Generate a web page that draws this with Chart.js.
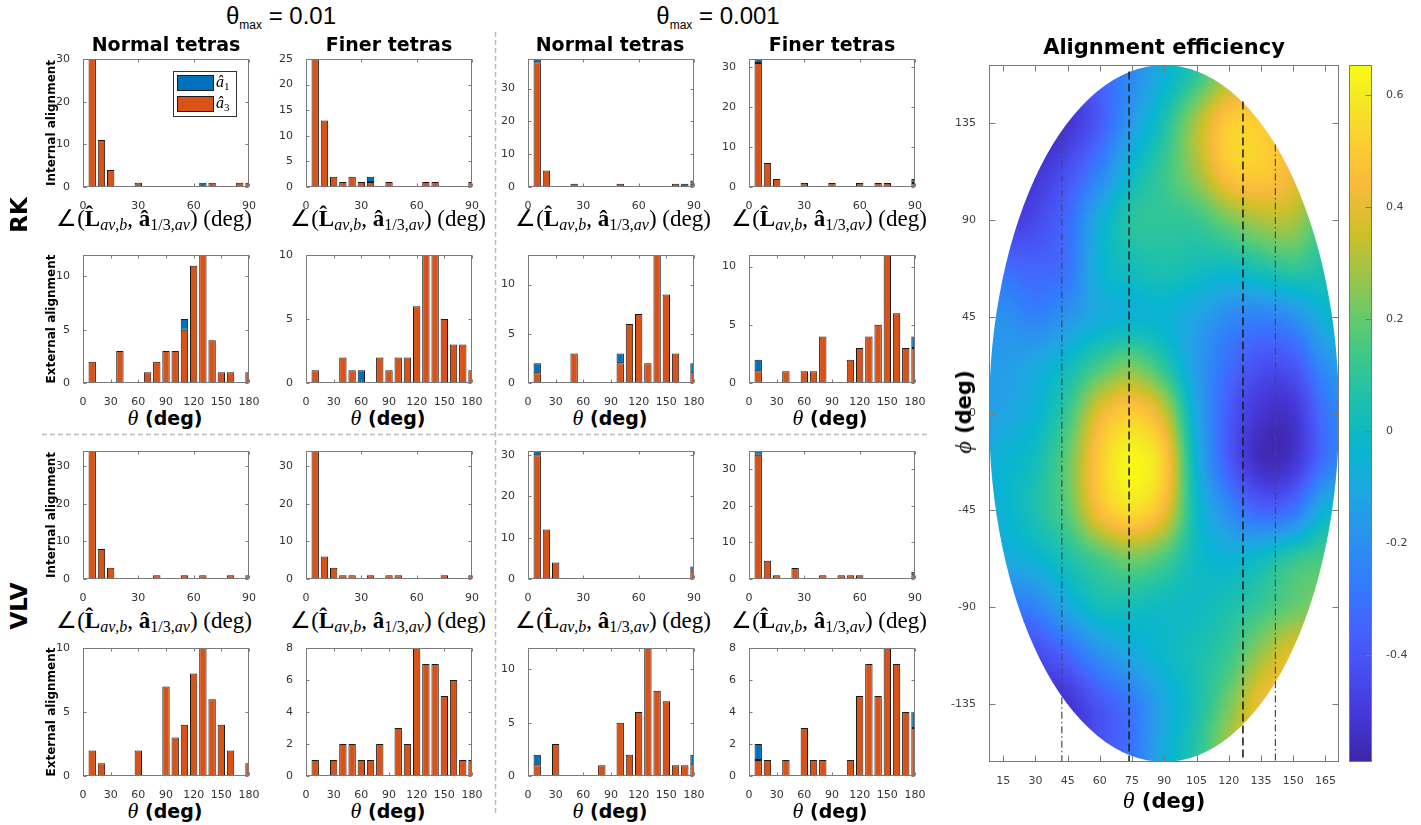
<!DOCTYPE html>
<html>
<head>
<meta charset="utf-8">
<title>Alignment histograms and alignment efficiency</title>
<script src="https://cdn.jsdelivr.net/npm/chart.js@4/dist/chart.umd.min.js"></script>
<style>
  html, body { margin: 0; padding: 0; background: #fff; }
  #fig { position: relative; width: 1421px; height: 825px; overflow: hidden;
         font-family: "DejaVu Sans", sans-serif; color: #000; }
  #fig canvas { position: absolute; }
  #seps { position: absolute; left: 0; top: 0; }
  .t { position: absolute; transform: translate(-50%, -50%); white-space: nowrap; line-height: 1; }
  .rot { transform: translate(-50%, -50%) rotate(-90deg); }
  .hdr { font-family: "Liberation Sans", Arial, sans-serif; font-size: 24px; }
  .hdr sub { font-size: 12px; vertical-align: -0.4em; line-height: 0; }
  .ptitle { font-weight: bold; font-size: 19px; }
  .ytitle { font-weight: bold; font-size: 12px; }
  .row { font-weight: bold; font-size: 23px; }
  .mlab { font-family: "Liberation Serif", serif; font-size: 23px; }
  .mlab sub { font-size: 16px; vertical-align: -0.3em; line-height: 0; }
  .tlab { font-weight: bold; font-size: 19px; }
  .tlab i { font-family: "Liberation Serif", serif; font-weight: normal; font-size: 22px; }
  .big { font-weight: bold; font-size: 21px; }
  .big i { font-family: "Liberation Serif", serif; font-weight: normal; font-size: 24px; }
  .htitle { font-weight: bold; font-size: 21px; }
</style>
</head>
<body>
<div id="fig">
  <svg id="seps" width="1421" height="825">
    <line x1="495.5" y1="32" x2="495.5" y2="815" stroke="#bdbdbd" stroke-width="1.5" stroke-dasharray="5 3"/>
    <line x1="42" y1="434.5" x2="930" y2="434.5" stroke="#bdbdbd" stroke-width="1.5" stroke-dasharray="5 3"/>
  </svg>
</div>
<script>
// ---- histogram bins and ticks ----
const INT_BINS = [5, 10, 15, 20, 25, 30, 35, 40, 45, 50, 55, 60, 65, 70, 75, 80, 85, 90];
const EXT_BINS = [10, 20, 30, 40, 50, 60, 70, 80, 90, 100, 110, 120, 130, 140, 150, 160, 170, 180];
const INT_XTICKS = [0, 30, 60, 90];
const EXT_XTICKS = [0, 30, 60, 90, 120, 150, 180];
const TICKS_BY_10 = [0, 10, 20, 30];
const TICKS_BY_5 = [0, 5, 10, 15, 20, 25];
const TICKS_SMALL_5 = [0, 5, 10];
const TICKS_BY_2 = [0, 2, 4, 6, 8];

// ---- counts: â3 (bottom, orange) and â1 (top, blue) ----
const NO_A1 = [0, 0, 0, 0, 0, 0, 0, 0, 0, 0, 0, 0, 0, 0, 0, 0, 0, 0];

// RK, θmax = 0.01
const RK1_NORMAL_INT_A3 = [30, 11, 4, 0, 0, 1, 0, 0, 0, 0, 0, 0, 0, 1, 0, 0, 1, 1];
const RK1_NORMAL_INT_A1 = [0, 0, 0, 0, 0, 0, 0, 0, 0, 0, 0, 0, 1, 0, 0, 0, 0, 0];
const RK1_FINER_INT_A3 = [25, 13, 2, 1, 2, 1, 1, 0, 1, 0, 0, 0, 1, 1, 0, 0, 0, 1];
const RK1_FINER_INT_A1 = [0, 0, 0, 0, 0, 0, 1, 0, 0, 0, 0, 0, 0, 0, 0, 0, 0, 0];
const RK1_NORMAL_EXT_A3 = [2, 0, 0, 3, 0, 0, 1, 2, 3, 3, 5, 11, 12, 4, 1, 1, 0, 1];
const RK1_NORMAL_EXT_A1 = [0, 0, 0, 0, 0, 0, 0, 0, 0, 0, 1, 0, 0, 0, 0, 0, 0, 0];
const RK1_FINER_EXT_A3 = [1, 0, 0, 2, 1, 0, 0, 2, 1, 2, 2, 6, 10, 10, 5, 3, 3, 1];
const RK1_FINER_EXT_A1 = [0, 0, 0, 0, 0, 1, 0, 0, 0, 0, 0, 0, 0, 0, 0, 0, 0, 0];

// RK, θmax = 0.001
const RK2_NORMAL_INT_A3 = [38, 5, 0, 0, 1, 0, 0, 0, 0, 1, 0, 0, 0, 0, 0, 1, 0, 1];
const RK2_NORMAL_INT_A1 = [1, 0, 0, 0, 0, 0, 0, 0, 0, 0, 0, 0, 0, 0, 0, 0, 1, 1];
const RK2_FINER_INT_A3 = [31, 6, 2, 0, 0, 1, 0, 0, 1, 0, 0, 1, 0, 1, 1, 0, 0, 1];
const RK2_FINER_INT_A1 = [1, 0, 0, 0, 0, 0, 0, 0, 0, 0, 0, 0, 0, 0, 0, 0, 0, 1];
const RK2_NORMAL_EXT_A3 = [1, 0, 0, 0, 3, 0, 0, 0, 0, 2, 6, 7, 2, 13, 9, 3, 0, 1];
const RK2_NORMAL_EXT_A1 = [1, 0, 0, 0, 0, 0, 0, 0, 0, 1, 0, 0, 0, 0, 0, 0, 0, 1];
const RK2_FINER_EXT_A3 = [1, 0, 0, 1, 0, 1, 1, 4, 0, 0, 2, 3, 4, 5, 11, 6, 3, 3];
const RK2_FINER_EXT_A1 = [1, 0, 0, 0, 0, 0, 0, 0, 0, 0, 0, 0, 0, 0, 0, 0, 0, 1];

// VLV, θmax = 0.01
const VLV1_NORMAL_INT_A3 = [34, 8, 3, 0, 0, 0, 0, 1, 0, 0, 1, 0, 1, 0, 0, 1, 0, 1];
const VLV1_FINER_INT_A3 = [34, 6, 3, 1, 1, 0, 1, 0, 1, 1, 0, 0, 0, 0, 1, 0, 0, 1];
const VLV1_NORMAL_EXT_A3 = [2, 1, 0, 0, 0, 2, 0, 0, 7, 3, 4, 8, 10, 6, 4, 2, 0, 1];
const VLV1_FINER_EXT_A3 = [1, 0, 1, 2, 2, 1, 1, 2, 0, 3, 2, 8, 7, 7, 5, 6, 1, 1];

// VLV, θmax = 0.001
const VLV2_NORMAL_INT_A3 = [30, 12, 4, 0, 0, 0, 0, 0, 0, 0, 0, 0, 0, 0, 0, 0, 0, 2];
const VLV2_NORMAL_INT_A1 = [1, 0, 0, 0, 0, 0, 0, 0, 0, 0, 0, 0, 0, 0, 0, 0, 0, 1];
const VLV2_FINER_INT_A3 = [34, 5, 1, 0, 3, 0, 0, 1, 0, 1, 1, 1, 0, 0, 0, 0, 0, 1];
const VLV2_FINER_INT_A1 = [1, 0, 0, 0, 0, 0, 0, 0, 0, 0, 0, 0, 0, 0, 0, 0, 0, 1];
const VLV2_NORMAL_EXT_A3 = [1, 0, 3, 0, 0, 0, 0, 1, 0, 5, 2, 6, 12, 8, 7, 1, 1, 1];
const VLV2_NORMAL_EXT_A1 = [1, 0, 0, 0, 0, 0, 0, 0, 0, 0, 0, 0, 0, 0, 0, 0, 0, 1];
const VLV2_FINER_EXT_A3 = [1, 1, 0, 1, 0, 3, 1, 1, 0, 0, 1, 5, 7, 5, 8, 7, 4, 3];
const VLV2_FINER_EXT_A1 = [1, 0, 0, 0, 0, 0, 0, 0, 0, 0, 0, 0, 0, 0, 0, 0, 0, 1];

// ---- alignment efficiency map ----
const THETA_RANGE = [8.4, 171.3];
const PHI_RANGE = [-162, 162];
const MAP_XTICKS = [15, 30, 45, 60, 75, 90, 105, 120, 135, 150, 165];
const MAP_YTICKS = [-135, -90, -45, 0, 45, 90, 135];
const CBAR_TICKS = [-0.4, -0.2, 0, 0.2, 0.4, 0.6];
const CLIM = [-0.59, 0.653];

// field samples: columns at FIELD_THETA, rows at FIELD_PHI (top to bottom)
const FIELD_THETA = [0, 15, 30, 45, 60, 75, 90, 105, 120, 135, 150, 165, 180];
const FIELD_PHI = [180, 157.5, 135, 112.5, 90, 67.5, 45, 22.5, 0, -22.5, -45, -67.5, -90, -112.5, -135, -157.5, -180];
const FIELD = [
  [-0.55, -0.55, -0.55, -0.50, -0.40, -0.22, -0.05, 0.08, 0.25, 0.28, 0.25, 0.15, 0.05],
  [-0.55, -0.55, -0.55, -0.50, -0.36, -0.22, -0.06, 0.10, 0.30, 0.35, 0.30, 0.20, 0.10],
  [-0.60, -0.60, -0.58, -0.52, -0.38, -0.15, 0.05, 0.30, 0.50, 0.50, 0.40, 0.25, 0.15],
  [-0.60, -0.58, -0.52, -0.42, -0.25, -0.02, 0.12, 0.28, 0.48, 0.50, 0.42, 0.30, 0.20],
  [-0.50, -0.50, -0.45, -0.33, -0.08, 0.08, 0.10, 0.12, 0.22, 0.30, 0.30, 0.12, 0.00],
  [-0.35, -0.32, -0.35, -0.30, -0.05, 0.02, 0.05, 0.02, 0.00, 0.05, 0.10, 0.05, 0.00],
  [-0.20, -0.20, -0.25, -0.18, -0.08, -0.05, -0.05, -0.12, -0.22, -0.25, -0.20, -0.05, 0.00],
  [-0.15, -0.15, -0.10, 0.00, 0.14, 0.22, 0.08, -0.15, -0.32, -0.42, -0.40, -0.20, -0.10],
  [-0.15, -0.12, -0.05, 0.12, 0.40, 0.50, 0.35, -0.10, -0.38, -0.52, -0.52, -0.30, -0.15],
  [-0.10, -0.05, 0.02, 0.20, 0.50, 0.64, 0.50, -0.05, -0.38, -0.55, -0.52, -0.30, -0.15],
  [-0.10, -0.05, 0.05, 0.18, 0.45, 0.56, 0.42, 0.00, -0.22, -0.35, -0.30, -0.05, 0.00],
  [-0.15, -0.10, -0.05, 0.05, 0.15, 0.22, 0.15, 0.00, -0.05, 0.00, 0.10, 0.15, 0.15],
  [-0.35, -0.30, -0.25, -0.10, 0.02, 0.02, 0.00, 0.00, 0.05, 0.12, 0.20, 0.25, 0.25],
  [-0.55, -0.50, -0.45, -0.35, -0.20, -0.10, -0.02, 0.04, 0.12, 0.28, 0.40, 0.35, 0.30],
  [-0.60, -0.58, -0.55, -0.52, -0.40, -0.28, -0.10, 0.04, 0.22, 0.42, 0.45, 0.40, 0.35],
  [-0.60, -0.60, -0.58, -0.52, -0.42, -0.30, -0.08, 0.08, 0.30, 0.42, 0.42, 0.38, 0.35],
  [-0.60, -0.60, -0.58, -0.52, -0.45, -0.32, -0.08, 0.08, 0.30, 0.40, 0.40, 0.35, 0.35],
];

// vertical guides: theta position and the phi where each one starts
const GUIDE_THETA = [42.3, 73.6, 126.6, 141.7];
const GUIDE_PHI_TOP = [131, 159, 145, 125];
const GUIDE_DASH = [[7, 3, 1.5, 3], [8, 4], [8, 4], [7, 3, 1.5, 3]];

// ---- colours ----
const ORANGE = '#D95319';
const BLUE = '#0072BD';
const EDGE = '#1a1a1a';
const AXIS = '#7a7a7a';
const TICK_TEXT = '#333333';
// parula, every 4th entry of the 64-colour table
const PARULA = [[62, 38, 168], [69, 55, 213], [72, 77, 240], [69, 99, 253], [50, 124, 252],
  [43, 145, 239], [32, 165, 227], [8, 181, 208], [25, 191, 178], [55, 199, 144],
  [100, 203, 109], [157, 197, 73], [209, 192, 40], [248, 186, 61], [252, 207, 48],
  [245, 233, 36], [249, 251, 21]];
const PARULA_POS = PARULA.map((_, k) => (k < PARULA.length - 1 ? (k * 4) / 63 : 1));

// ---- panel layout ----
const COL_LEFT = [83, 306, 528, 749];
const ROW_TOP = [59, 255, 451, 648];
const BOX_W = 166, BOX_H = 128;
const PAD_L = 40, PAD_T = 10, PAD_R = 16, PAD_B = 22;

const PANELS = [
  { col: 0, row: 0, kind: 'int', a3: RK1_NORMAL_INT_A3, a1: RK1_NORMAL_INT_A1, yMax: 30, yTicks: TICKS_BY_10, legend: true },
  { col: 1, row: 0, kind: 'int', a3: RK1_FINER_INT_A3, a1: RK1_FINER_INT_A1, yMax: 25, yTicks: TICKS_BY_5 },
  { col: 2, row: 0, kind: 'int', a3: RK2_NORMAL_INT_A3, a1: RK2_NORMAL_INT_A1, yMax: 39, yTicks: TICKS_BY_10 },
  { col: 3, row: 0, kind: 'int', a3: RK2_FINER_INT_A3, a1: RK2_FINER_INT_A1, yMax: 32, yTicks: TICKS_BY_10 },
  { col: 0, row: 1, kind: 'ext', a3: RK1_NORMAL_EXT_A3, a1: RK1_NORMAL_EXT_A1, yMax: 12, yTicks: TICKS_SMALL_5 },
  { col: 1, row: 1, kind: 'ext', a3: RK1_FINER_EXT_A3, a1: RK1_FINER_EXT_A1, yMax: 10, yTicks: TICKS_SMALL_5 },
  { col: 2, row: 1, kind: 'ext', a3: RK2_NORMAL_EXT_A3, a1: RK2_NORMAL_EXT_A1, yMax: 13, yTicks: TICKS_SMALL_5 },
  { col: 3, row: 1, kind: 'ext', a3: RK2_FINER_EXT_A3, a1: RK2_FINER_EXT_A1, yMax: 11, yTicks: TICKS_SMALL_5 },
  { col: 0, row: 2, kind: 'int', a3: VLV1_NORMAL_INT_A3, a1: NO_A1, yMax: 34, yTicks: TICKS_BY_10 },
  { col: 1, row: 2, kind: 'int', a3: VLV1_FINER_INT_A3, a1: NO_A1, yMax: 34, yTicks: TICKS_BY_10 },
  { col: 2, row: 2, kind: 'int', a3: VLV2_NORMAL_INT_A3, a1: VLV2_NORMAL_INT_A1, yMax: 31, yTicks: TICKS_BY_10 },
  { col: 3, row: 2, kind: 'int', a3: VLV2_FINER_INT_A3, a1: VLV2_FINER_INT_A1, yMax: 35, yTicks: TICKS_BY_10 },
  { col: 0, row: 3, kind: 'ext', a3: VLV1_NORMAL_EXT_A3, a1: NO_A1, yMax: 10, yTicks: TICKS_SMALL_5 },
  { col: 1, row: 3, kind: 'ext', a3: VLV1_FINER_EXT_A3, a1: NO_A1, yMax: 8, yTicks: TICKS_BY_2 },
  { col: 2, row: 3, kind: 'ext', a3: VLV2_NORMAL_EXT_A3, a1: VLV2_NORMAL_EXT_A1, yMax: 12, yTicks: TICKS_SMALL_5 },
  { col: 3, row: 3, kind: 'ext', a3: VLV2_FINER_EXT_A3, a1: VLV2_FINER_EXT_A1, yMax: 8, yTicks: TICKS_BY_2 },
];

Chart.defaults.font.family = '"DejaVu Sans", sans-serif';
Chart.defaults.animation = false;

// box around the axes with short inward ticks, matlab style
const frameTicks = {
  id: 'frameTicks',
  afterDraw(chart, args, o) {
    if (!o.enabled) return;
    const { ctx, chartArea: a, scales } = chart;
    const l = Math.round(a.left) + 0.5, r = Math.round(a.right) - 0.5;
    const t = Math.round(a.top) + 0.5, b = Math.round(a.bottom) - 0.5;
    ctx.save();
    ctx.strokeStyle = o.color;
    ctx.lineWidth = 1;
    ctx.beginPath();
    if (o.xTicks) {
      for (const tk of scales.x.ticks) {
        const px = Math.round(scales.x.getPixelForValue(tk.value)) + 0.5;
        ctx.moveTo(px, b); ctx.lineTo(px, b - o.len);
        ctx.moveTo(px, t); ctx.lineTo(px, t + o.len);
      }
    }
    for (const tk of scales.y.ticks) {
      const py = Math.round(scales.y.getPixelForValue(tk.value)) + 0.5;
      if (o.leftTicks) { ctx.moveTo(l, py); ctx.lineTo(l + o.len, py); }
      ctx.moveTo(r, py); ctx.lineTo(r - o.len, py);
    }
    ctx.stroke();
    ctx.strokeRect(l, t, r - l, b - t);
    ctx.restore();
  }
};

// legend box drawn inside the plot area
const insetLegend = {
  id: 'insetLegend',
  afterDraw(chart, args, o) {
    if (!o.enabled) return;
    const { ctx, chartArea: a } = chart;
    const x0 = Math.round(a.left + o.x), y0 = Math.round(a.top + o.y);
    ctx.save();
    ctx.fillStyle = '#fff';
    ctx.fillRect(x0, y0, o.w, o.h);
    ctx.strokeStyle = '#333';
    ctx.lineWidth = 1;
    ctx.strokeRect(x0 + 0.5, y0 + 0.5, o.w - 1, o.h - 1);
    o.order.forEach((di, k) => {
      const ds = chart.data.datasets[di];
      const py = y0 + 4 + k * 21;
      ctx.fillStyle = ds.backgroundColor;
      ctx.fillRect(x0 + 4, py, 37, 16);
      ctx.strokeStyle = EDGE;
      ctx.strokeRect(x0 + 4.5, py + 0.5, 36, 15);
      ctx.fillStyle = '#000';
      ctx.textBaseline = 'alphabetic';
      ctx.font = 'italic 16px "Liberation Serif", serif';
      ctx.fillText(ds.label.charAt(0), x0 + 43, py + 12);
      const wBase = ctx.measureText(ds.label.charAt(0)).width;
      ctx.font = '11px "Liberation Serif", serif';
      ctx.fillText(ds.label.slice(1), x0 + 43 + wBase, py + 15);
    });
    ctx.restore();
  }
};

function parula(v) {
  let t = (v - CLIM[0]) / (CLIM[1] - CLIM[0]);
  t = Math.min(1, Math.max(0, t));
  let k = 0;
  while (k < PARULA_POS.length - 2 && t > PARULA_POS[k + 1]) k++;
  const f = (t - PARULA_POS[k]) / (PARULA_POS[k + 1] - PARULA_POS[k]);
  const c0 = PARULA[k], c1 = PARULA[k + 1];
  return [c0[0] + (c1[0] - c0[0]) * f, c0[1] + (c1[1] - c0[1]) * f, c0[2] + (c1[2] - c0[2]) * f];
}

function cubic(p0, p1, p2, p3, t) {
  return p1 + 0.5 * t * (p2 - p0 + t * (2 * p0 - 5 * p1 + 4 * p2 - p3 + t * (3 * (p1 - p2) + p3 - p0)));
}

// smooth reading of the field between its samples
function sampleField(th, ph) {
  const fx = (th - FIELD_THETA[0]) / (FIELD_THETA[1] - FIELD_THETA[0]);
  const fy = (FIELD_PHI[0] - ph) / (FIELD_PHI[0] - FIELD_PHI[1]);
  const i = Math.floor(fx), j = Math.floor(fy);
  const tx = fx - i, ty = fy - j;
  const nr = FIELD.length, nc = FIELD[0].length;
  const g = (r, c) => FIELD[Math.min(nr - 1, Math.max(0, r))][Math.min(nc - 1, Math.max(0, c))];
  const rows = [];
  for (let m = -1; m <= 2; m++) {
    rows.push(cubic(g(j + m, i - 1), g(j + m, i), g(j + m, i + 1), g(j + m, i + 2), tx));
  }
  return cubic(rows[0], rows[1], rows[2], rows[3], ty);
}

// colour field clipped to the ellipse
const fieldLayer = {
  id: 'fieldLayer',
  beforeDatasetsDraw(chart, args, o) {
    if (!o.enabled) return;
    const { ctx, chartArea: a, scales: { x, y } } = chart;
    const w = Math.round(a.width), h = Math.round(a.height);
    if (!chart.$fieldImg) {
      const off = document.createElement('canvas');
      off.width = w; off.height = h;
      const octx = off.getContext('2d');
      const img = octx.createImageData(w, h);
      for (let j = 0; j < h; j++) {
        const ph = y.getValueForPixel(a.top + j + 0.5);
        for (let i = 0; i < w; i++) {
          const th = x.getValueForPixel(a.left + i + 0.5);
          const c = parula(sampleField(th, ph));
          const k = (j * w + i) * 4;
          img.data[k] = c[0]; img.data[k + 1] = c[1]; img.data[k + 2] = c[2]; img.data[k + 3] = 255;
        }
      }
      octx.putImageData(img, 0, 0);
      chart.$fieldImg = off;
    }
    const cx = x.getPixelForValue((THETA_RANGE[0] + THETA_RANGE[1]) / 2);
    const cy = y.getPixelForValue((PHI_RANGE[0] + PHI_RANGE[1]) / 2);
    const rx = Math.abs(x.getPixelForValue(THETA_RANGE[1]) - cx);
    const ry = Math.abs(y.getPixelForValue(PHI_RANGE[1]) - cy);
    ctx.save();
    ctx.beginPath();
    ctx.ellipse(cx, cy, rx, ry, 0, 0, 2 * Math.PI);
    ctx.clip();
    ctx.drawImage(chart.$fieldImg, a.left, a.top);
    ctx.restore();
  }
};

// colour scale painted from the colorbar axis
const colorScale = {
  id: 'colorScale',
  beforeDatasetsDraw(chart, args, o) {
    if (!o.enabled) return;
    const { ctx, chartArea: a, scales: { y } } = chart;
    ctx.save();
    for (let py = Math.round(a.top); py < Math.round(a.bottom); py++) {
      const c = parula(y.getValueForPixel(py + 0.5));
      ctx.fillStyle = `rgb(${c[0] | 0},${c[1] | 0},${c[2] | 0})`;
      ctx.fillRect(a.left, py, a.width, 1);
    }
    ctx.restore();
  }
};

Chart.register(frameTicks, insetLegend, fieldLayer, colorScale);

const fig = document.getElementById('fig');

function addCanvas(left, top, w, h) {
  const c = document.createElement('canvas');
  c.width = w; c.height = h;
  c.style.left = left + 'px';
  c.style.top = top + 'px';
  c.style.width = w + 'px';
  c.style.height = h + 'px';
  fig.appendChild(c);
  return c;
}

function addText(cls, x, y, html) {
  const d = document.createElement('div');
  d.className = 't ' + cls;
  d.style.left = x + 'px';
  d.style.top = y + 'px';
  d.innerHTML = html;
  fig.appendChild(d);
}

const tickFont = { family: '"DejaVu Sans", sans-serif', size: 11 };

function makePanel(p) {
  const bins = p.kind === 'int' ? INT_BINS : EXT_BINS;
  const xTicks = p.kind === 'int' ? INT_XTICKS : EXT_XTICKS;
  const canvas = addCanvas(COL_LEFT[p.col] - PAD_L, ROW_TOP[p.row] - PAD_T,
    PAD_L + BOX_W + PAD_R, PAD_T + BOX_H + PAD_B);
  const barStyle = { borderColor: EDGE, borderWidth: 1, borderSkipped: false,
    barPercentage: 0.8, categoryPercentage: 1 };
  new Chart(canvas, {
    type: 'bar',
    data: {
      datasets: [
        { label: 'â3', data: bins.map((b, i) => ({ x: b, y: p.a3[i] })), backgroundColor: ORANGE, ...barStyle },
        { label: 'â1', data: bins.map((b, i) => ({ x: b, y: p.a1[i] })), backgroundColor: BLUE, ...barStyle },
      ],
    },
    options: {
      responsive: false,
      events: [],
      layout: { padding: { left: 0, top: PAD_T, right: PAD_R, bottom: 0 } },
      scales: {
        x: {
          type: 'linear', min: 0, max: xTicks[xTicks.length - 1], offset: false, stacked: true,
          grid: { display: false }, border: { display: false },
          ticks: { color: TICK_TEXT, font: tickFont, padding: 5, autoSkip: false, maxRotation: 0 },
          afterBuildTicks: (s) => { s.ticks = xTicks.map((v) => ({ value: v })); },
          afterFit: (s) => { s.height = PAD_B; s.paddingLeft = 0; s.paddingRight = 0; },
        },
        y: {
          min: 0, max: p.yMax, stacked: true,
          grid: { display: false }, border: { display: false },
          ticks: { color: TICK_TEXT, font: tickFont, padding: 5 },
          afterBuildTicks: (s) => { s.ticks = p.yTicks.map((v) => ({ value: v })); },
          afterFit: (s) => { s.width = PAD_L; s.paddingTop = 0; s.paddingBottom = 0; },
        },
      },
      plugins: {
        legend: { display: false },
        tooltip: { enabled: false },
        frameTicks: { enabled: true, color: AXIS, len: 3, xTicks: true, leftTicks: true },
        insetLegend: { enabled: !!p.legend, x: 90, y: 12, w: 64, h: 46, order: [1, 0] },
      },
    },
  });
}

PANELS.forEach(makePanel);

// ---- alignment efficiency map ----
const MAP_LEFT = 945, MAP_TOP = 57, MAP_W = 400, MAP_H = 740;
const mapCanvas = addCanvas(MAP_LEFT, MAP_TOP, MAP_W, MAP_H);
new Chart(mapCanvas, {
  type: 'scatter',
  data: {
    datasets: GUIDE_THETA.map((th, i) => ({
      data: [{ x: th, y: GUIDE_PHI_TOP[i] }, { x: th, y: PHI_RANGE[0] }],
      showLine: true,
      pointRadius: 0,
      borderColor: GUIDE_DASH[i].length > 2 ? '#4a4a4a' : '#222222',
      borderWidth: GUIDE_DASH[i].length > 2 ? 1.2 : 1.6,
      borderDash: GUIDE_DASH[i],
    })),
  },
  options: {
    responsive: false,
    events: [],
    layout: { padding: { left: 0, top: 8, right: 6, bottom: 0 } },
    scales: {
      x: {
        type: 'linear', min: THETA_RANGE[0], max: THETA_RANGE[1],
        grid: { display: false }, border: { display: false },
        ticks: { color: '#404040', font: tickFont, padding: 5, autoSkip: false, maxRotation: 0 },
        afterBuildTicks: (s) => { s.ticks = MAP_XTICKS.map((v) => ({ value: v })); },
        afterFit: (s) => { s.height = 35; s.paddingLeft = 0; s.paddingRight = 0; },
      },
      y: {
        type: 'linear', min: PHI_RANGE[0], max: PHI_RANGE[1],
        grid: { display: false }, border: { display: false },
        ticks: { color: '#404040', font: tickFont, padding: 5 },
        afterBuildTicks: (s) => { s.ticks = MAP_YTICKS.map((v) => ({ value: v })); },
        afterFit: (s) => { s.width = 44; s.paddingTop = 0; s.paddingBottom = 0; },
      },
    },
    plugins: {
      legend: { display: false },
      tooltip: { enabled: false },
      fieldLayer: { enabled: true },
      frameTicks: { enabled: true, color: AXIS, len: 6, xTicks: true, leftTicks: true },
    },
  },
});

// ---- colorbar ----
const cbarCanvas = addCanvas(1349, MAP_TOP, 72, MAP_H);
new Chart(cbarCanvas, {
  type: 'scatter',
  data: { datasets: [{ data: [] }] },
  options: {
    responsive: false,
    events: [],
    layout: { padding: { left: 0, top: 8, right: 0, bottom: 35 } },
    scales: {
      x: { type: 'linear', display: false, min: 0, max: 1 },
      y: {
        type: 'linear', position: 'right', min: CLIM[0], max: CLIM[1],
        grid: { display: false }, border: { display: false },
        ticks: { color: '#404040', font: tickFont, padding: 6,
          callback: (v) => String(Number(v.toFixed(1))) },
        afterBuildTicks: (s) => { s.ticks = CBAR_TICKS.map((v) => ({ value: v })); },
        afterFit: (s) => { s.width = 49; s.paddingTop = 0; s.paddingBottom = 0; },
      },
    },
    plugins: {
      legend: { display: false },
      tooltip: { enabled: false },
      colorScale: { enabled: true },
      frameTicks: { enabled: true, color: AXIS, len: 6, xTicks: false, leftTicks: false },
    },
  },
});

// ---- text ----
const ANGLE_LABEL = '∠(<b>L\u0302</b><sub><i>av</i>,<i>b</i></sub>, <b>â</b><sub>1/3,<i>av</i></sub>) (deg)';
const THETA_LABEL = '<i>θ</i> (deg)';

addText('hdr', 281, 16, 'θ<sub>max</sub> = 0.01');
addText('hdr', 718, 16, 'θ<sub>max</sub> = 0.001');

[166, 389, 610, 832].forEach((x, i) => addText('ptitle', x, 44, i % 2 === 0 ? 'Normal tetras' : 'Finer tetras'));

[154, 388, 613, 829].forEach((x) => {
  addText('mlab', x, 218, ANGLE_LABEL);
  addText('mlab', x, 620, ANGLE_LABEL);
});
[165, 388, 610, 830].forEach((x) => {
  addText('tlab', x, 418, THETA_LABEL);
  addText('tlab', x, 811, THETA_LABEL);
});

addText('ytitle rot', 51, ROW_TOP[0] + BOX_H / 2, 'Internal alignment');
addText('ytitle rot', 51, ROW_TOP[1] + BOX_H / 2, 'External alignment');
addText('ytitle rot', 51, ROW_TOP[2] + BOX_H / 2, 'Internal alignment');
addText('ytitle rot', 51, ROW_TOP[3] + BOX_H / 2, 'External alignment');

addText('row rot', 19, 215, 'RK');
addText('row rot', 19, 606, 'VLV');

addText('htitle', 1164, 47, 'Alignment efficiency');
addText('big', 1164, 800, THETA_LABEL);
addText('big rot', 963, 412, '<i>ϕ</i> (deg)');
</script>
</body>
</html>
